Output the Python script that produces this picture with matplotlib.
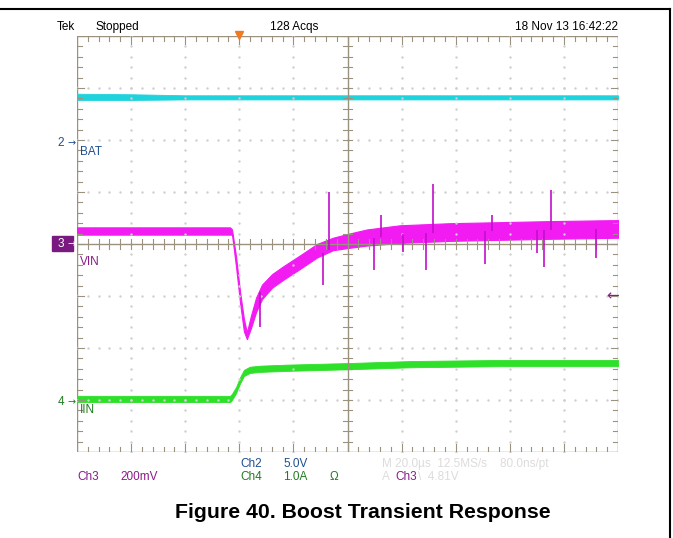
import matplotlib
matplotlib.use("Agg")
import matplotlib.pyplot as plt
from matplotlib.lines import Line2D
from matplotlib.patches import Rectangle
import numpy as np

W, H = 673, 538

# time axis in us (20 us/div), y in screen divisions
bat_t = [-100, -80, -60, -40, -20, 0, 20, 40, 60, 80, 100]
bat_lo = [2.77, 2.77, 2.78, 2.78, 2.78, 2.78, 2.78, 2.78, 2.78, 2.78, 2.78]
bat_hi = [2.89, 2.88, 2.86, 2.86, 2.86, 2.86, 2.86, 2.86, 2.86, 2.86, 2.86]

vin_t = [-100, -43.4, -42.7, -41.2, -39.7, -38.3, -37.2, -35.7, -33.8, -31.6,
         -27.9, -23.8, -17.6, -11.3, -5.4, -0.2, 7.2, 19.4, 37.9, 56.4, 74.9, 100]
vin_lo = [0.18, 0.18, 0.18, -0.44, -1.14, -1.68, -1.83, -1.62, -1.31, -1.06,
          -0.84, -0.69, -0.48, -0.26, -0.12, -0.08, -0.03, 0.02, 0.06, 0.08, 0.10, 0.12]
vin_hi = [0.32, 0.32, 0.28, -0.24, -0.93, -1.44, -1.70, -1.38, -1.03, -0.78,
          -0.58, -0.43, -0.22, 0.0, 0.12, 0.19, 0.28, 0.36, 0.40, 0.42, 0.44, 0.46]

# spikes on VIN: time, base level, tip level
spike_t = [-32.3, -9.1, -6.8, 9.8, 12.4, 20.5, 29.0, 31.6, 50.8, 53.4, 70.1, 72.7, 75.2, 91.9]
spike_base = [-0.92, -0.18, -0.12, 0.12, 0.14, 0.19, 0.22, 0.22, 0.25, 0.25, 0.27, 0.27, 0.27, 0.28]
spike_tip = [-1.60, -0.79, 1.0, -0.50, 0.56, -0.15, -0.50, 1.15, -0.38, 0.56, -0.17, -0.44, 1.04, -0.27]

iin_t = [-100, -43.4, -42.7, -41.2, -39.7, -38.3, -36.1, -32.4, -22.4, -0.2, 24.2, 56.4, 100]
iin_lo = [-3.04, -3.04, -3.00, -2.87, -2.68, -2.54, -2.48, -2.46, -2.44, -2.41, -2.37, -2.35, -2.35]
iin_hi = [-2.92, -2.92, -2.88, -2.75, -2.56, -2.42, -2.36, -2.34, -2.32, -2.29, -2.25, -2.23, -2.23]

grat = "#9a927e"
dotc = "#cfcfcf"
cyan = "#1fd3dc"
magenta = "#f21cf2"
spikec = "#c010c8"
green = "#2fe02a"
fam = ["Liberation Sans", "DejaVu Sans"]


def fx(x):
    return x / W


def fy(y):
    return 1 - y / H


fig = plt.figure(figsize=(W / 100, H / 100), dpi=100)
fig.patch.set_facecolor("white")
ax = fig.add_axes([fx(77), fy(452), (618 - 77) / W, (452 - 36) / H])
ax.set_xlim(-100, 100)
ax.set_ylim(-4, 4)
ax.axis("off")

# graticule dots
for i in range(-4, 5):
    if i == 0:
        continue
    ax.plot(np.full(41, i * 20.0), np.arange(-4, 4.01, 0.2), ls="none", marker="s", ms=0.7, color=dotc)
for j in range(-3, 4):
    if j == 0:
        continue
    ax.plot(np.arange(-100, 100.1, 4), np.full(51, float(j)), ls="none", marker="s", ms=0.7, color=dotc)

# border and center cross
ax.add_patch(Rectangle((-100, -4), 200, 8, fill=False, ec=grat, lw=1.0))
ax.plot([0, 0], [-4, 4], color=grat, lw=1.0)
ax.plot([-100, 100], [0, 0], color=grat, lw=1.0)
tx = 0.09 * 20 / 1.04  # tick length in x units (~5 px)
ty = 0.1
for k in np.arange(-100, 100.1, 4):
    big = abs(k / 20 - round(k / 20)) < 1e-6
    ax.plot([k, k], [-ty, ty], color=grat, lw=0.8)
    ax.plot([k, k], [4, 4 - (1.5 if big else 1) * ty], color=grat, lw=0.8)
    ax.plot([k, k], [-4, -4 + (1.5 if big else 1) * ty], color=grat, lw=0.8)
for k in np.arange(-4, 4.01, 0.2):
    big = abs(k - round(k)) < 1e-6
    ax.plot([-tx, tx], [k, k], color=grat, lw=0.8)
    ax.plot([-100, -100 + (1.5 if big else 1) * tx], [k, k], color=grat, lw=0.8)
    ax.plot([100, 100 - (1.5 if big else 1) * tx], [k, k], color=grat, lw=0.8)

# traces
ax.fill_between(bat_t, bat_lo, bat_hi, color=cyan, lw=0.6, ec=cyan)
ax.fill_between(iin_t, iin_lo, iin_hi, color=green, lw=0.6, ec=green)
ax.fill_between(vin_t, vin_lo, vin_hi, color=magenta, lw=0.8, ec=magenta)
ax.vlines(spike_t, spike_base, spike_tip, color=spikec, lw=1.2)

# trigger marker
ax.plot([-40], [4.02], marker="v", ms=6, color="#f07a1e", clip_on=False, ls="none")

# frame
fig.add_artist(Line2D([0, fx(670)], [fy(9), fy(9)], color="black", lw=1.5))
fig.add_artist(Line2D([fx(670), fx(670)], [fy(9), 0], color="black", lw=1.5))

# header
hs = 8.5
fig.text(fx(57), fy(27), "Tek", fontsize=hs, family=fam, va="center")
fig.text(fx(95), fy(27), "Stopped", fontsize=hs, family=fam, va="center")
fig.text(fx(294), fy(27), "128 Acqs", fontsize=hs, family=fam, va="center", ha="center")
fig.text(fx(618), fy(27), "18 Nov 13 16:42:22", fontsize=hs, family=fam, va="center", ha="right")

# channel markers
ms_ = 8.5
blue_c, purple_c, green_c = "#1f4e8c", "#8a1a8a", "#237a23"
fig.add_artist(Rectangle((fx(52), fy(251)), 21 / W, 15 / H, color="#7a1a80"))
for yy, num, col in [(143, "2", blue_c), (244, "3", "white"), (402, "4", green_c)]:
    fig.text(fx(64), fy(yy), num, fontsize=ms_, family=fam, color=col, va="center", ha="right")
    fig.text(fx(76), fy(yy), "\u2192", fontsize=7, family="DejaVu Sans", color=col, va="center", ha="right")
fig.text(fx(80), fy(152), "BAT", fontsize=ms_, family=fam, color=blue_c, va="center")
fig.text(fx(80), fy(262), "VIN", fontsize=ms_, family=fam, color=purple_c, va="center")
fig.text(fx(80), fy(410), "IIN", fontsize=ms_, family=fam, color=green_c, va="center")
fig.text(fx(619), fy(296), "\u2190", fontsize=11, family="DejaVu Sans", color=purple_c, va="center", ha="right")

# bottom readouts
bs = 8.5
fig.text(fx(77), fy(477), "Ch3", fontsize=bs, family=fam, color=purple_c, va="center")
fig.text(fx(120), fy(477), "200mV", fontsize=bs, family=fam, color=purple_c, va="center")
fig.text(fx(240), fy(464), "Ch2", fontsize=bs, family=fam, color=blue_c, va="center")
fig.text(fx(283), fy(464), "5.0V", fontsize=bs, family=fam, color=blue_c, va="center")
fig.text(fx(240), fy(477), "Ch4", fontsize=bs, family=fam, color=green_c, va="center")
fig.text(fx(283), fy(477), "1.0A", fontsize=bs, family=fam, color=green_c, va="center")
fig.text(fx(330), fy(477), "\u03a9", fontsize=bs, family=fam, color=green_c, va="center")
fig.text(fx(382), fy(464), "M 20.0\u00b5s  12.5MS/s    80.0ns/pt", fontsize=bs, family=fam, color="#dcdcdc", va="center")
fig.text(fx(382), fy(477), "A", fontsize=bs, family=fam, color="#dcdcdc", va="center")
fig.text(fx(395), fy(477), "Ch3", fontsize=bs, family=fam, color=purple_c, va="center")
fig.text(fx(418), fy(477), "\\  4.81V", fontsize=bs, family=fam, color="#dcdcdc", va="center")

# caption
fig.text(fx(363), fy(513), "Figure 40. Boost Transient Response", fontsize=15.3,
         family="Liberation Sans", weight="bold", ha="center", va="center")

fig.savefig("out.png", dpi=100)
